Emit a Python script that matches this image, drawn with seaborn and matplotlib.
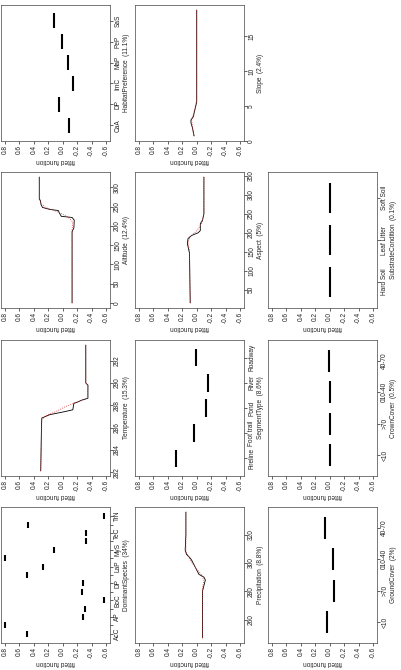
import matplotlib
matplotlib.use("Agg")
import matplotlib.pyplot as plt
import seaborn as sns
import numpy as np
from matplotlib.ticker import MultipleLocator

sns.set_style("ticks")
plt.rcParams['font.family'] = ['Liberation Sans', 'DejaVu Sans']

# ---------------- data ----------------
fit_ticks = [-0.6, -0.4, -0.2, 0.0, 0.2, 0.4, 0.6, 0.8]

species_labels = ["AcC", "", "AP", "", "BoC", "", "DP", "", "LaP", "", "MyS", "", "TeC", "", "TrN"]
species_fit = [0.49, 0.8, -0.28, -0.31, -0.57, -0.27, -0.28, 0.5, 0.28, 0.8, 0.12, -0.32, -0.32, 0.48, -0.57]

habitat_labels = ["CaA", "DP", "ImC", "MaP", "PeP", "SaS"]
habitat_fit = [-0.09, 0.045, -0.14, -0.075, 0.015, 0.125]

segment_labels = ["Fireline", "Foot trail", "Pond", "River", "Roadway"]
segment_fit = [0.29, 0.036, -0.13, -0.155, 0.014]

cover_labels = ["<10", ">70", "010-40", "40-70"]
ground_fit = [0.04, -0.06, -0.04, 0.06]
crown_fit = [0.0, 0.0, -0.005, 0.005]

substrate_labels = ["Hard Soil", "Leaf Litter", "Soft Soil"]
substrate_fit = [0.0, 0.0, 0.0]

alt_x = [0, 185, 195, 215, 222, 225, 235, 240, 243, 248, 255, 266, 270, 327]
alt_fit = [-0.13, -0.13, -0.155, -0.16, -0.13, 0.02, 0.05, 0.06, 0.18, 0.28, 0.30, 0.31, 0.325, 0.325]
alt_sx = [0, 190, 210, 222, 232, 240, 248, 258, 270, 327]
alt_sfit = [-0.13, -0.13, -0.14, -0.08, 0.02, 0.12, 0.24, 0.30, 0.32, 0.325]

temp_x = [282.1, 284.0, 286.0, 286.85, 287.15, 287.44, 287.59, 288.18, 288.24, 288.47, 288.62, 289.79, 290.0, 293.4]
temp_fit = [0.305, 0.30, 0.295, 0.29, 0.18, -0.04, -0.14, -0.155, -0.19, -0.27, -0.35, -0.35, -0.32, -0.32]
temp_sx = [282.1, 286.7, 287.0, 287.44, 287.88, 288.32, 288.62, 289.79, 290.0, 293.4]
temp_sfit = [0.305, 0.29, 0.25, 0.09, -0.04, -0.22, -0.34, -0.35, -0.32, -0.32]

slope_x = [0.7, 1.9, 2.6, 3.0, 3.5, 4.0, 4.7, 5.6, 18.8]
slope_fit = [0.036, 0.06, 0.08, 0.08, 0.045, 0.036, 0.02, 0.0, 0.0]
slope_sx = [0.7, 2.0, 3.0, 4.0, 5.0, 6.0, 18.8]
slope_sfit = [0.04, 0.06, 0.07, 0.04, 0.015, 0.0, 0.0]

aspect_x = [15, 146, 172, 185, 193, 200, 206, 224, 233, 250, 347]
aspect_fit = [0.09, 0.10, 0.13, 0.12, 0.07, -0.02, -0.05, -0.05, -0.08, -0.10, -0.10]
aspect_sx = [15, 150, 175, 190, 205, 225, 250, 347]
aspect_sfit = [0.09, 0.10, 0.12, 0.09, 0.0, -0.07, -0.10, -0.10]

precip_x = [247, 280, 284, 288, 290, 292, 295, 297, 300, 302, 304, 306, 309, 320, 326, 336]
precip_fit = [-0.08, -0.08, -0.10, -0.12, -0.10, -0.03, 0.0, 0.02, 0.05, 0.07, 0.10, 0.14, 0.16, 0.15, 0.15, 0.15]
precip_sx = [247, 282, 288, 292, 297, 303, 308, 336]
precip_sfit = [-0.08, -0.08, -0.10, -0.06, 0.02, 0.10, 0.15, 0.15]

# ---------------- layout ----------------
W, H = 401, 670
FS = 4.7
col_left = [1, 135, 268]
row_top = [5, 172, 340, 507]
pw, ph = 109, 136

fig = plt.figure(figsize=(W / 100, H / 100), dpi=100)


def make_ax(c, r):
    return fig.add_axes([col_left[c] / W, 1 - (row_top[r] + ph) / H, pw / W, ph / H])


def style_panel(ax, label):
    ax.set_xlim(0.856, -0.656)
    ax.set_xticks(fit_ticks)
    ax.set_xticklabels([f"{t:.1f}" for t in fit_ticks], rotation=90, fontsize=FS)
    ax.set_xlabel("fitted function", rotation=180, fontsize=FS, labelpad=0.8)
    ax.yaxis.tick_right()
    ax.yaxis.set_label_position("right")
    ax.set_ylabel(label, rotation=90, fontsize=FS, labelpad=1.5)
    for lab in ax.get_yticklabels():
        lab.set_rotation(90)
        lab.set_va("center")
        lab.set_fontsize(FS)
    ax.tick_params(length=2.0, width=0.5, pad=1.0, colors="#222222")
    for s in ax.spines.values():
        s.set_visible(True)
        s.set_linewidth(0.5)
        s.set_color("#444444")
    ax.grid(False)


def factor_panel(ax, labels, vals, title):
    n = len(labels)
    pos = np.arange(1, n + 1)
    ax.vlines(vals, pos - 0.35, pos + 0.35, color="black", lw=1.5)
    ax.set_ylim(0.5 - 0.04 * n, n + 0.5 + 0.04 * n)
    ax.set_yticks(pos)
    ax.set_yticklabels(labels)
    style_panel(ax, title)


def cont_panel(ax, x, f, sx, sf, title, step):
    sns.lineplot(x=f, y=x, orient="y", estimator=None, color="black", lw=0.6, ax=ax)
    sns.lineplot(x=sf, y=sx, orient="y", estimator=None, color="#d62728", lw=0.6, ls=":", ax=ax)
    ax.margins(y=0.04)
    ax.yaxis.set_major_locator(MultipleLocator(step))
    style_panel(ax, title)


factor_panel(make_ax(0, 3), species_labels, species_fit, "DominantSpecies  (34%)")
cont_panel(make_ax(0, 2), temp_x, temp_fit, temp_sx, temp_sfit, "Temperature  (15.3%)", 2)
cont_panel(make_ax(0, 1), alt_x, alt_fit, alt_sx, alt_sfit, "Altitude  (12.4%)", 50)
factor_panel(make_ax(0, 0), habitat_labels, habitat_fit, "HabitatPreference  (11.1%)")

cont_panel(make_ax(1, 3), precip_x, precip_fit, precip_sx, precip_sfit, "Precipitation  (8.8%)", 20)
factor_panel(make_ax(1, 2), segment_labels, segment_fit, "SegmentType  (8.6%)")
cont_panel(make_ax(1, 1), aspect_x, aspect_fit, aspect_sx, aspect_sfit, "Aspect  (5%)", 50)
cont_panel(make_ax(1, 0), slope_x, slope_fit, slope_sx, slope_sfit, "Slope  (2.4%)", 5)

factor_panel(make_ax(2, 3), cover_labels, ground_fit, "GroundCover  (2%)")
factor_panel(make_ax(2, 2), cover_labels, crown_fit, "CrownCover  (0.5%)")
factor_panel(make_ax(2, 1), substrate_labels, substrate_fit, "SubstrateCondition  (0.1%)")

fig.savefig("out.png", dpi=100, facecolor="white")
